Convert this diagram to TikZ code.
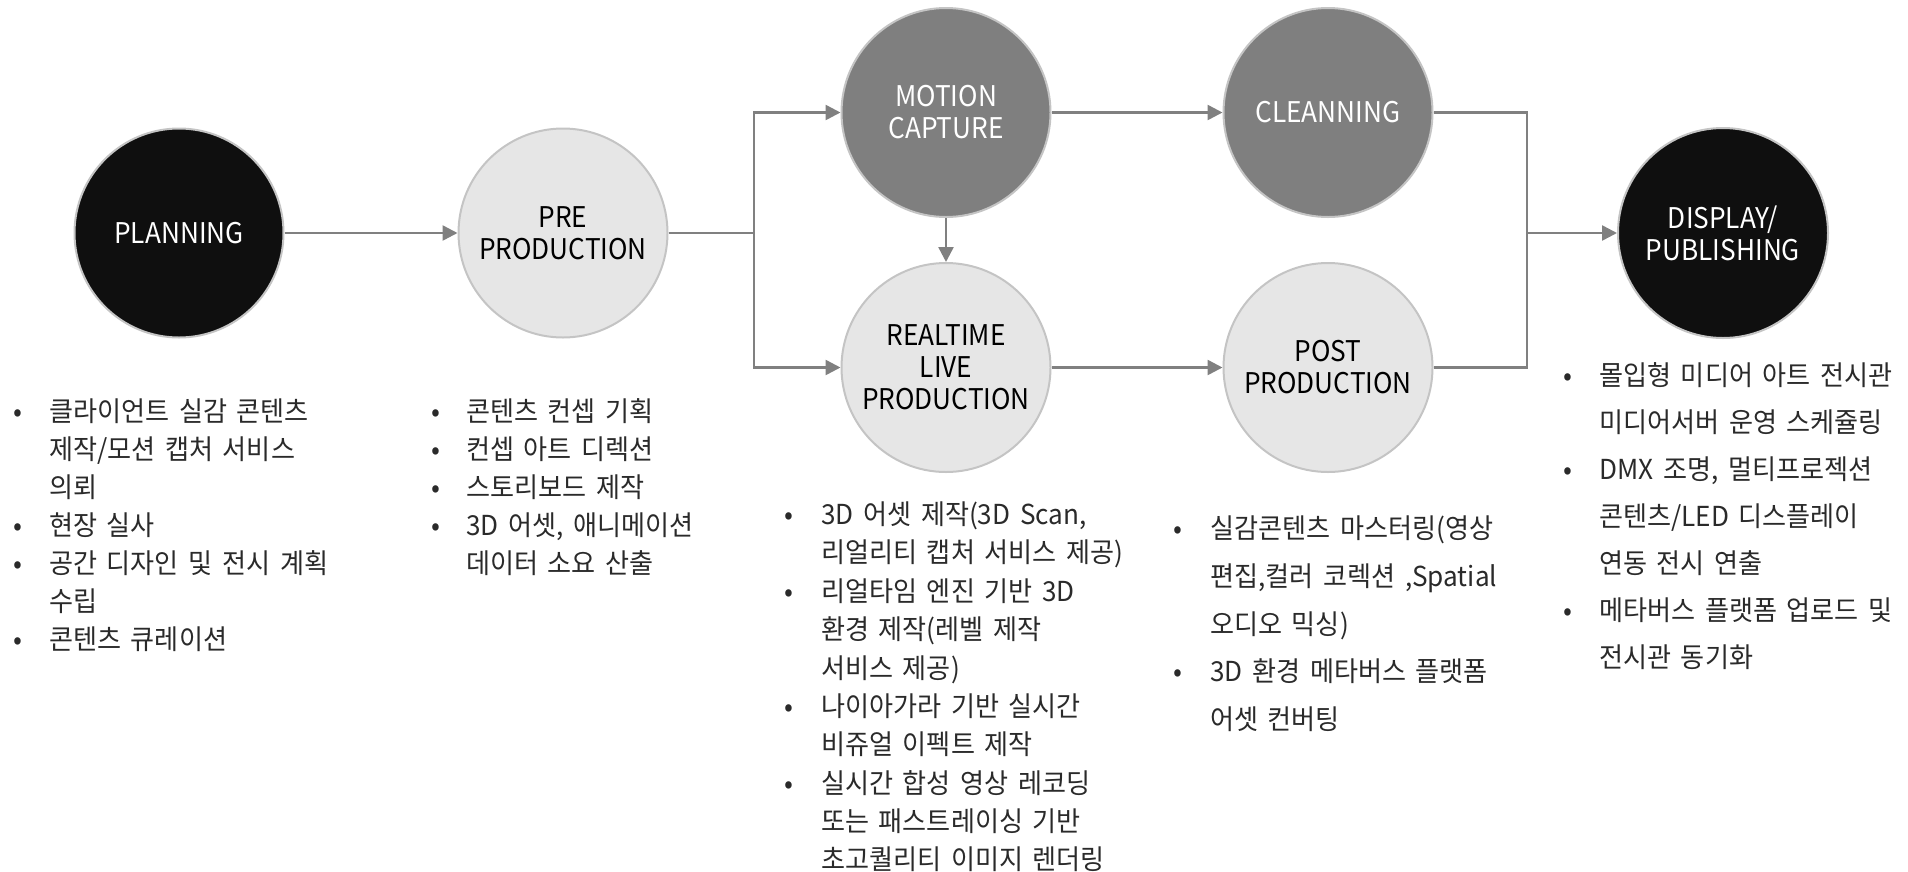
\documentclass[tikz,border=0pt]{standalone}
\usepackage{fontspec}
\setmainfont{Noto Sans CJK KR}
\newfontfamily\kot{Noto Sans CJK KR}[FakeStretch=0.95,WordSpace=1.65]
\newfontfamily\circf{Noto Sans CJK KR}[FakeStretch=0.92]
\usetikzlibrary{arrows.meta}
\definecolor{darkfill}{HTML}{0F0F0F}
\definecolor{midfill}{HTML}{7F7F7F}
\definecolor{lightfill}{HTML}{E6E6E6}
\definecolor{rimc}{HTML}{C4C4C4}
\definecolor{linec}{HTML}{808080}
\definecolor{txtc}{HTML}{2A2A2A}
\tikzset{
  stage/.style={circle, minimum size=209pt, inner sep=0pt, draw=rimc, line width=2pt,
    align=center, font=\circf\fontsize{28.5}{32}\selectfont},
  darkst/.style={stage, fill=darkfill, text=white},
  midst/.style={stage, fill=midfill, text=white},
  lightst/.style={stage, fill=lightfill, text=black},
  conn/.style={draw=linec, line width=2.5pt},
  arr/.style={conn, -{Triangle[length=15pt,width=15pt]}},
  item/.style={anchor=base west, inner sep=0pt, text=txtc, font=\kot\fontsize{27.5}{32}\selectfont},
  dotb/.style={anchor=base, inner sep=0pt, text=txtc, font=\kot\fontsize{27.5}{32}\selectfont},
}
\begin{document}
\begin{tikzpicture}[x=1pt,y=-1pt]
\useasboundingbox (0,0) rectangle (1908,871);
% stages
\node[darkst]  (plan) at (179,233)   {PLANNING};
\node[lightst] (pre)  at (563,233)   {PRE\\PRODUCTION};
\node[midst]   (mot)  at (946,112.5) {MOTION\\CAPTURE};
\node[lightst] (rt)   at (946,367.5) {REALTIME\\LIVE\\PRODUCTION};
\node[midst]   (cln)  at (1328,112.5) {CLEANNING};
\node[lightst] (post) at (1328,367.5) {POST\\PRODUCTION};
\node[darkst, minimum size=210pt] (disp) at (1723,233) {DISPLAY/\\PUBLISHING};
% connectors
\coordinate (split) at (754,233);
\coordinate (merge) at (1527,233);
\draw[arr] (plan.east) -- (pre.west);
\draw[conn] (pre.east) -- (split);
\draw[arr] (split) |- (mot.west);
\draw[arr] (split) |- (rt.west);
\draw[arr] (mot.south) -- (rt.north);
\draw[arr] (mot.east) -- (cln.west);
\draw[arr] (rt.east) -- (post.west);
\draw[conn] (cln.east) -| (merge);
\draw[conn] (post.east) -| (merge);
\draw[arr] (merge) -- (disp.west);
% column 1 : planning
\node[dotb] (b1a) at (18,421) {•};
\node[item] (t1a) at (49,421) {클라이언트 실감 콘텐츠};
\node[item] (t1b) at (49,459) {제작/모션 캡처 서비스};
\node[item] (t1c) at (49,497) {의뢰};
\node[dotb] (b1d) at (18,535) {•};
\node[item] (t1d) at (49,535) {현장 실사};
\node[dotb] (b1e) at (18,573) {•};
\node[item] (t1e) at (49,573) {공간 디자인 및 전시 계획};
\node[item] (t1f) at (49,611) {수립};
\node[dotb] (b1g) at (18,649) {•};
\node[item] (t1g) at (49,649) {콘텐츠 큐레이션};
% column 2 : pre production
\node[dotb] (b2a) at (436,421) {•};
\node[item] (t2a) at (466,421) {콘텐츠 컨셉 기획};
\node[dotb] (b2b) at (436,459) {•};
\node[item] (t2b) at (466,459) {컨셉 아트 디렉션};
\node[dotb] (b2c) at (436,497) {•};
\node[item] (t2c) at (466,497) {스토리보드 제작};
\node[dotb] (b2d) at (436,535) {•};
\node[item] (t2d) at (466,535) {3D 어셋, 애니메이션};
\node[item] (t2e) at (466,573) {데이터 소요 산출};
% column 3 : realtime live production
\node[dotb] (b3a) at (789,524) {•};
\node[item] (t3a) at (821,524) {3D 어셋 제작(3D Scan,};
\node[item] (t3b) at (821,562) {리얼리티 캡처 서비스 제공)};
\node[dotb] (b3c) at (789,601) {•};
\node[item] (t3c) at (821,601) {리얼타임 엔진 기반 3D};
\node[item] (t3d) at (821,639) {환경 제작(레벨 제작};
\node[item] (t3e) at (821,678) {서비스 제공)};
\node[dotb] (b3f) at (789,716) {•};
\node[item] (t3f) at (821,716) {나이아가라 기반 실시간};
\node[item] (t3g) at (821,754) {비쥬얼 이펙트 제작};
\node[dotb] (b3h) at (789,793) {•};
\node[item] (t3h) at (821,793) {실시간 합성 영상 레코딩};
\node[item] (t3i) at (821,831) {또는 패스트레이싱 기반};
\node[item] (t3j) at (821,869) {초고퀄리티 이미지 렌더링};
% column 4 : post production
\node[dotb] (b4a) at (1178,538) {•};
\node[item] (t4a) at (1210,538) {실감콘텐츠 마스터링(영상};
\node[item] (t4b) at (1210,586) {편집,컬러 코렉션 ,Spatial};
\node[item] (t4c) at (1210,634) {오디오 믹싱)};
\node[dotb] (b4d) at (1178,681) {•};
\node[item] (t4d) at (1210,681) {3D 환경 메타버스 플랫폼};
\node[item] (t4e) at (1210,729) {어셋 컨버팅};
% column 5 : display / publishing
\node[dotb] (b5a) at (1568,385) {•};
\node[item] (t5a) at (1599,385) {몰입형 미디어 아트 전시관};
\node[item] (t5b) at (1599,432) {미디어서버 운영 스케쥴링};
\node[dotb] (b5c) at (1568,479) {•};
\node[item] (t5c) at (1599,479) {DMX 조명, 멀티프로젝션};
\node[item] (t5d) at (1599,526) {콘텐츠/LED 디스플레이};
\node[item] (t5e) at (1599,573) {연동 전시 연출};
\node[dotb] (b5f) at (1568,620) {•};
\node[item] (t5f) at (1599,620) {메타버스 플랫폼 업로드 및};
\node[item] (t5g) at (1599,667) {전시관 동기화};
\end{tikzpicture}
\end{document}
